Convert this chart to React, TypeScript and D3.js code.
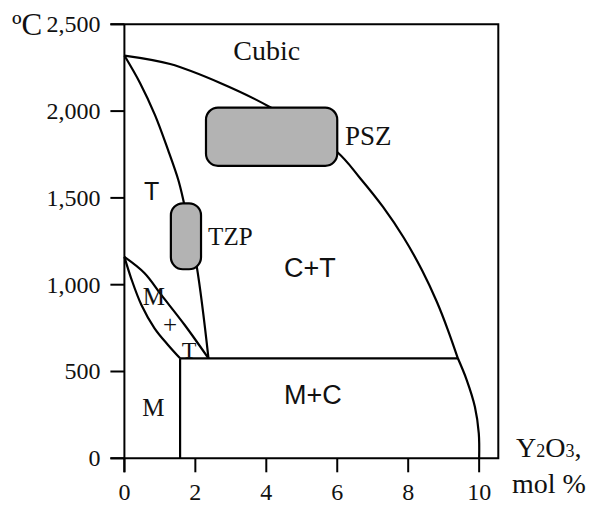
import React from "react";
import * as d3 from "d3";

const W = 597;
const H = 507;

// axes
const xTicks = [0, 2, 4, 6, 8, 10];
const yTicks = [0, 500, 1000, 1500, 2000, 2500];
const xMax = 10.54; // right edge of the frame, mol % Y2O3
const yMax = 2500;

// phase boundaries, [mol % Y2O3, ºC]
const cubicUpper: [number, number][] = [
  [0, 2320], [1.29, 2271], [2.7, 2162], [4.11, 2022], [5.99, 1766],
  [6.64, 1615], [7.29, 1448], [7.88, 1269], [8.39, 1083], [8.81, 900],
  [9.12, 739], [9.4, 576],
];
const cubicLower: [number, number][] = [
  [9.4, 576], [9.65, 451], [9.88, 297], [9.99, 144], [10.0, 0],
];
const tetragonal: [number, number][] = [
  [0, 2320], [0.44, 2162], [0.86, 1978], [1.23, 1776], [1.52, 1603],
  [1.66, 1488], [2.04, 1104], [2.37, 576],
];
const lensUpper: [number, number][] = [
  [0, 1160], [0.57, 1066], [1.04, 941], [1.7, 768], [2.37, 576],
];
const lensLower: [number, number][] = [
  [0, 1160], [0.19, 1037], [0.48, 883], [0.85, 749], [1.23, 653], [1.57, 576],
];
const eutectoidT = 576;
const eutectoidX = [1.57, 9.4];

// ceramic regions
const zones = [
  { name: "PSZ", x0: 2.3, x1: 6.0, t0: 1685, t1: 2020 },
  { name: "TZP", x0: 1.31, x1: 2.16, t0: 1089, t1: 1469 },
];

// phase labels (data coords, text start / baseline)
const labels = [
  { text: "Cubic", x: 3.07, t: 2294, size: 28, sans: false },
  { text: "PSZ", x: 6.22, t: 1805, size: 27, sans: false },
  { text: "TZP", x: 2.36, t: 1229, size: 25, sans: false },
  { text: "T", x: 0.55, t: 1488, size: 25, sans: true },
  { text: "C+T", x: 4.5, t: 1044, size: 27, sans: true },
  { text: "M+C", x: 4.5, t: 313, size: 27, sans: true },
  { text: "M", x: 0.5, t: 244, size: 25, sans: false },
  { text: "M", x: 0.52, t: 883, size: 25, sans: false },
  { text: "+", x: 1.09, t: 722, size: 25, sans: false },
  { text: "T", x: 1.62, t: 578, size: 24, sans: false },
];

const serif = "'Liberation Serif', 'Times New Roman', serif";
const sans = "'Liberation Sans', Arial, sans-serif";

export default function App() {
  const x = d3.scaleLinear().domain([0, xMax]).range([124.4, 498.3]);
  const y = d3.scaleLinear().domain([0, yMax]).range([458.3, 24.3]);

  const line = d3
    .line<[number, number]>()
    .x((d) => x(d[0]))
    .y((d) => y(d[1]))
    .curve(d3.curveCatmullRom.alpha(0.5));

  const fmt = d3.format(",");
  const left = x(0);
  const right = x(xMax);
  const top = y(yMax);
  const bottom = y(0);

  return (
    <svg
      width={W}
      height={H}
      style={{ position: "absolute", left: 0, top: 0, background: "#fff" }}
    >
      <g fill="none" stroke="#000" strokeWidth={2.2} strokeLinejoin="round">
        <path d={line(cubicUpper) || ""} />
        <path d={line(cubicLower) || ""} />
        <path d={line(tetragonal) || ""} />
        <path d={line(lensUpper) || ""} />
        <path d={line(lensLower) || ""} />
        <line x1={x(eutectoidX[0])} x2={x(eutectoidX[1])} y1={y(eutectoidT)} y2={y(eutectoidT)} />
        <line x1={x(eutectoidX[0])} x2={x(eutectoidX[0])} y1={y(eutectoidT)} y2={y(0)} />
      </g>

      {zones.map((z) => {
        const w = x(z.x1) - x(z.x0);
        const h = y(z.t0) - y(z.t1);
        return (
          <rect
            key={z.name}
            x={x(z.x0)}
            y={y(z.t1)}
            width={w}
            height={h}
            rx={Math.min(12, w / 2)}
            fill="#b3b3b3"
            stroke="#000"
            strokeWidth={2.2}
          />
        );
      })}

      {/* frame */}
      <g stroke="#000" strokeWidth={2} fill="none">
        <path d={`M${left - 14},${top}H${right}V${bottom}H${left - 14}`} />
        <line x1={left} x2={left} y1={top} y2={bottom + 14} />
        {yTicks.map((t) => (
          <line key={t} x1={left - 14} x2={left} y1={y(t)} y2={y(t)} />
        ))}
        {xTicks.map((t) => (
          <line key={t} x1={x(t)} x2={x(t)} y1={bottom} y2={bottom + 14} />
        ))}
      </g>

      <g fontFamily={serif} fontSize={24} fill="#111">
        {yTicks.map((t) => (
          <text key={t} x={left - 24} y={y(t)} dy="0.33em" textAnchor="end">
            {fmt(t)}
          </text>
        ))}
        {xTicks.map((t) => (
          <text key={t} x={x(t)} y={bottom + 42} textAnchor="middle">
            {t}
          </text>
        ))}
      </g>

      <text x={12} y={35} fontFamily={serif} fontSize={31} fill="#111">
        ºC
      </text>
      <text x={516} y={456.7} fontFamily={serif} fontSize={28} fill="#111">
        Y<tspan fontSize={18}>2</tspan>O<tspan fontSize={18}>3</tspan>,
      </text>
      <text x={512} y={493} fontFamily={serif} fontSize={28} fill="#111">
        mol %
      </text>

      {labels.map((l, i) => (
        <text
          key={i}
          x={x(l.x)}
          y={y(l.t)}
          fontFamily={l.sans ? sans : serif}
          fontSize={l.size}
          fill="#111"
        >
          {l.text}
        </text>
      ))}
    </svg>
  );
}
